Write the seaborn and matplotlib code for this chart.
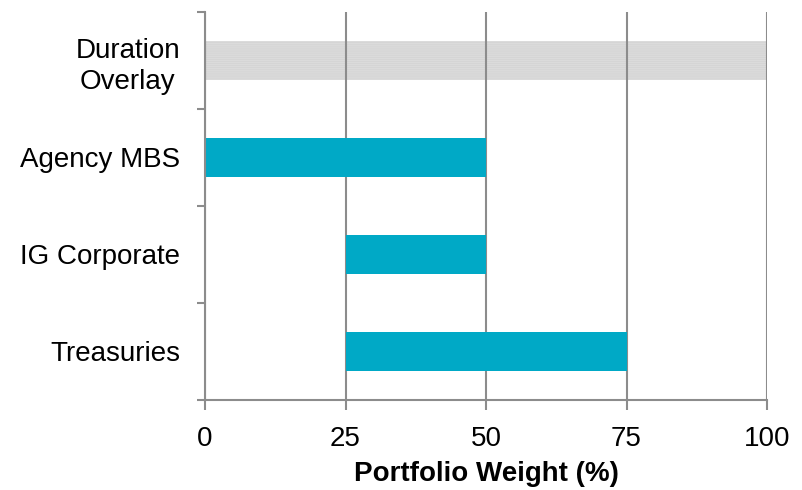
import matplotlib
matplotlib.use("Agg")
import matplotlib.pyplot as plt
import seaborn as sns
import pandas as pd

# ranges of portfolio weight per sector (%)
categories = ["Duration\nOverlay", "Agency MBS", "IG Corporate", "Treasuries"]
range_start = [0, 0, 25, 25]
range_end = [100, 50, 50, 75]
x_ticks = [0, 25, 50, 75, 100]

TEAL = "#00A9C6"
OVERLAY = "#b8b8b8"
AXIS_GREY = "#8c8c8c"
FS = 20

sns.set_style("white")
plt.rcParams["font.family"] = ["Liberation Sans", "DejaVu Sans"]
plt.rcParams["text.color"] = "black"
plt.rcParams["axes.labelcolor"] = "black"
plt.rcParams["hatch.linewidth"] = 0.4

df = pd.DataFrame({"sector": categories, "start": range_start, "end": range_end})

fig = plt.figure(figsize=(8.03, 4.9), dpi=100)
ax = fig.add_axes([0.2553, 0.1837, 0.6999, 0.7918])

sns.barplot(data=df, x="end", y="sector", orient="h", width=0.4,
            color=TEAL, saturation=1, ax=ax)

# turn the bars into floating ranges
for patch, (_, row) in zip(ax.patches, df.iterrows()):
    patch.set_x(row["start"])
    patch.set_width(row["end"] - row["start"])
    patch.set_linewidth(0)

# the overlay is a soft grey band, grid lines show through it
overlay = ax.patches[0]
overlay.set_facecolor(OVERLAY)
overlay.set_alpha(0.5)
overlay.set_hatch("--------")
overlay.set_edgecolor("#c8c8c8")
overlay.set_zorder(0.4)

ax.set_xlim(0, 100)
ax.set_ylim(len(categories) - 0.5, -0.5)
ax.set_xticks(x_ticks)
ax.set_xticklabels([str(t) for t in x_ticks])

# category labels at centers, tick marks at band boundaries
ax.set_yticks([i - 0.5 for i in range(len(categories) + 1)])
ax.set_yticklabels([])
ax.set_yticks(range(len(categories)), minor=True)
ax.set_yticklabels(categories, minor=True)
for lbl in ax.get_yticklabels(minor=True):
    lbl.set_multialignment("center")
    lbl.set_linespacing(1.25)

ax.tick_params(axis="y", which="major", direction="out", length=6, width=1.5,
               color=AXIS_GREY, left=True)
ax.tick_params(axis="y", which="minor", length=0, pad=18, labelsize=FS,
               labelcolor="black")
ax.tick_params(axis="x", which="major", direction="out", length=7, width=1.5,
               color=AXIS_GREY, bottom=True, pad=12, labelsize=FS,
               labelcolor="black")

ax.grid(axis="x", color=AXIS_GREY, linewidth=1.5)
ax.grid(axis="y", visible=False)
ax.set_axisbelow(True)

sns.despine(ax=ax, top=True, right=True)
for side in ["left", "bottom"]:
    ax.spines[side].set_color(AXIS_GREY)
    ax.spines[side].set_linewidth(1.5)

ax.set_ylabel("")
ax.set_xlabel("Portfolio Weight (%)", fontsize=FS, fontweight="bold",
              labelpad=6, color="black")

fig.savefig("out.png", dpi=100)
